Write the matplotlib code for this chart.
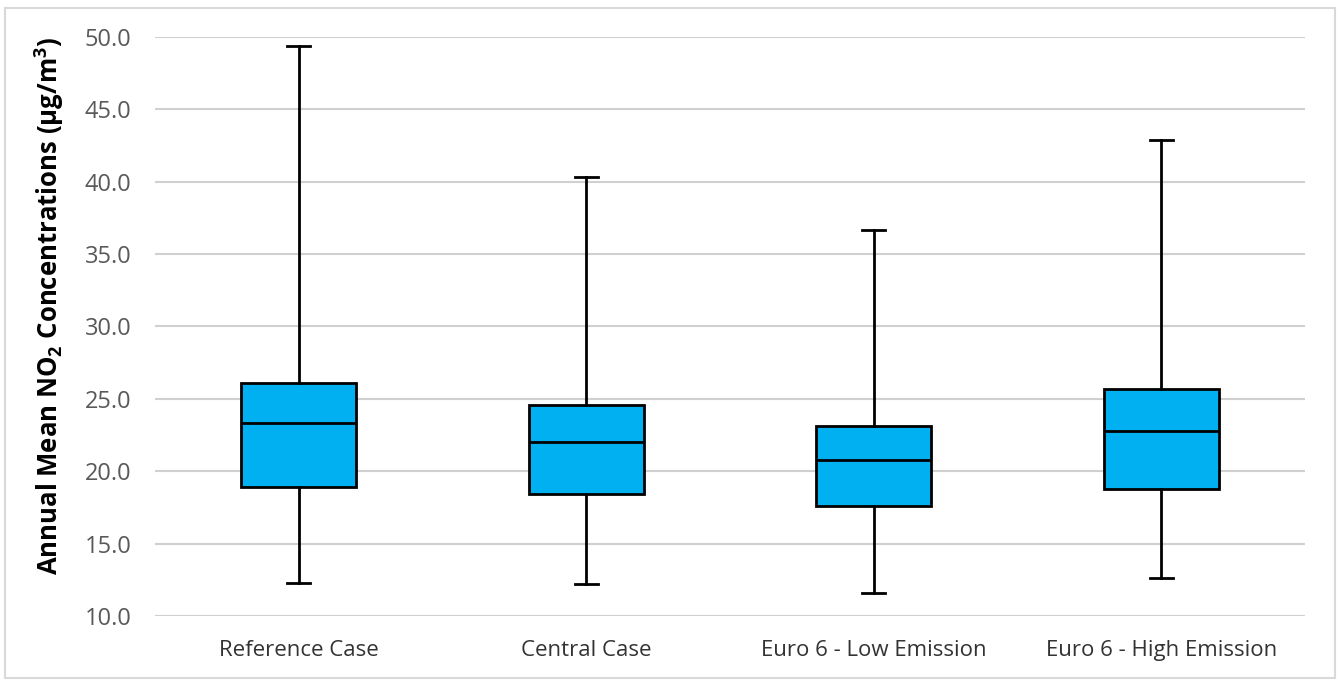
import matplotlib
matplotlib.use("Agg")
import matplotlib.pyplot as plt
from matplotlib.patches import Rectangle

# --------------------------
# 数据
# --------------------------
categories = ["Reference Case", "Central Case", "Euro 6 - Low Emission", "Euro 6 - High Emission"]
whisker_low = [12.3, 12.2, 11.6, 12.6]
q1 = [18.9, 18.4, 17.6, 18.8]
median = [23.3, 22.0, 20.8, 22.8]
q3 = [26.1, 24.6, 23.1, 25.7]
whisker_high = [49.4, 40.3, 36.7, 42.9]
y_ticks = [10, 15, 20, 25, 30, 35, 40, 45, 50]

plt.rcParams['font.family'] = ['Open Sans', 'DejaVu Sans']
plt.rcParams['mathtext.fontset'] = 'custom'
plt.rcParams['mathtext.rm'] = 'Open Sans'
plt.rcParams['mathtext.bf'] = 'Open Sans:bold'

fig = plt.figure(figsize=(13.42, 6.80), dpi=100)
ax = fig.add_axes([155 / 1342, 1 - 616 / 680, 1150 / 1342, 579 / 680])

stats = []
for i, name in enumerate(categories):
    stats.append({
        "label": name,
        "whislo": whisker_low[i],
        "q1": q1[i],
        "med": median[i],
        "q3": q3[i],
        "whishi": whisker_high[i],
        "fliers": [],
    })

ax.bxp(stats, positions=range(len(categories)), widths=0.4, patch_artist=True,
       showfliers=False,
       boxprops=dict(facecolor="#00B0F0", edgecolor="black", linewidth=2),
       medianprops=dict(color="black", linewidth=2),
       whiskerprops=dict(color="black", linewidth=2),
       capprops=dict(color="black", linewidth=2),
       capwidths=0.08)

ax.set_xlim(-0.5, len(categories) - 0.5)
ax.set_ylim(10, 50)
ax.set_yticks(y_ticks)
ax.set_yticklabels([f"{v:.1f}" for v in y_ticks])
ax.yaxis.grid(True, color="#D0D0D0", linewidth=1.5)
ax.set_axisbelow(True)
for s in ax.spines.values():
    s.set_visible(False)
ax.tick_params(axis="y", length=0, labelsize=17, colors="#595959", pad=17)
ax.tick_params(axis="x", length=0, labelsize=16, colors="#333333", pad=17)
ax.set_ylabel(r"Annual Mean NO$_\mathbf{2}$ Concentrations (µg/m$^\mathbf{3}$)",
              fontsize=18.5, fontweight="bold", color="black")
ax.yaxis.set_label_coords(-0.077, 0.535)

# 外框
fig.patches.append(Rectangle((5 / 1342, 2 / 680), 1330 / 1342, 670 / 680,
                             transform=fig.transFigure, fill=False,
                             edgecolor="#D9D9D9", linewidth=1.5))

fig.savefig("out.png", dpi=100)
